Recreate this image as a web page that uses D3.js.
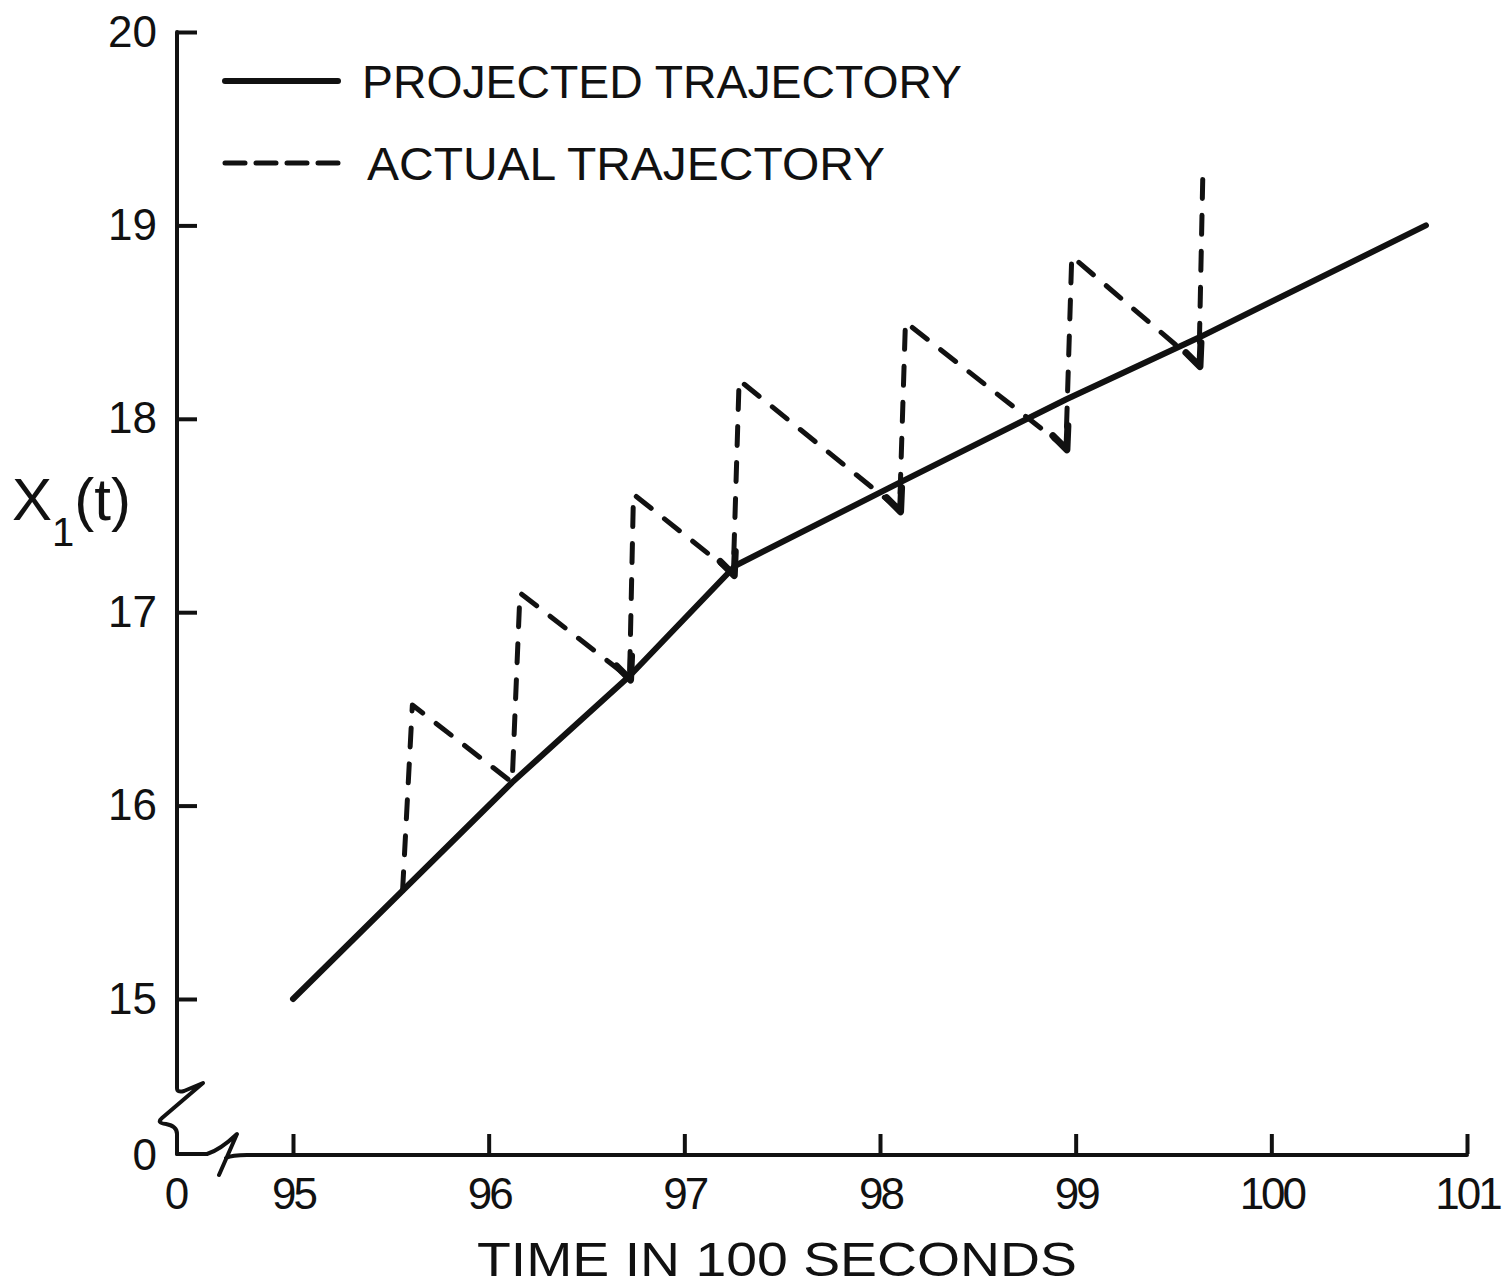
<!DOCTYPE html>
<html>
<head>
<meta charset="utf-8">
<script src="https://cdn.jsdelivr.net/npm/d3@7"></script>
<style>
  body { margin: 0; background: #fff; }
  text { font-family: "Liberation Sans", "DejaVu Sans", sans-serif; fill: #111; }
</style>
</head>
<body>
<svg id="chart" width="1502" height="1288"></svg>
<script>
// tick values
var xTicks = [95, 96, 97, 98, 99, 100, 101];
var yTicks = [15, 16, 17, 18, 19, 20];

// projected trajectory (solid)
var projX = [95.0, 96.12, 96.72, 97.26, 98.10, 98.95, 99.63, 100.79];
var projY = [15.0, 16.12, 16.67, 17.24, 17.67, 18.10, 18.42, 19.00];

// actual trajectory (dashed sawtooth)
var actX = [95.56, 95.61, 96.12, 96.16, 96.72, 96.74, 97.25, 97.28, 98.10, 98.13, 98.95, 98.98, 99.63, 99.65];
var actY = [15.56, 16.52, 16.12, 17.10, 16.66, 17.61, 17.20, 18.20, 17.53, 18.50, 17.85, 18.84, 18.28, 19.27];

var legendNames = ["PROJECTED TRAJECTORY", "ACTUAL TRAJECTORY"];

var svg = d3.select("#chart");
var ink = "#111";

// axis corner (broken axes), in pixels
var ox = 177, oy = 1154;

var x = d3.scaleLinear().domain([95, 101]).range([293, 1467]);
var y = d3.scaleLinear().domain([15, 20]).range([999, 32]);

// y axis with break
svg.append("path")
    .attr("d", "M" + ox + "," + y(20) + " V" + (oy - 66) +
               " Q" + ox + "," + (oy - 61) + " " + (ox + 7) + "," + (oy - 63) +
               " L" + (ox + 26) + "," + (oy - 71) +
               " L" + (ox - 15) + "," + (oy - 36) +
               " Q" + (ox - 21) + "," + (oy - 31) + " " + (ox - 11) + "," + (oy - 30) +
               " Q" + ox + "," + (oy - 28) + " " + ox + "," + (oy - 20) +
               " V" + oy)
    .attr("fill", "none").attr("stroke", ink).attr("stroke-width", 4)
    .attr("stroke-linejoin", "round").attr("stroke-linecap", "round");

// x axis with break
svg.append("path")
    .attr("d", "M" + ox + "," + oy + " H" + (ox + 30) +
               " Q" + (ox + 43) + "," + (oy - 4) + " " + (ox + 60) + "," + (oy - 20) +
               " L" + (ox + 42) + "," + (oy + 21) +
               " M" + (ox + 49) + "," + (oy + 4) +
               " Q" + (ox + 55) + "," + (oy + 1) + " " + (ox + 70) + "," + (oy + 1) +
               " H" + x(101))
    .attr("fill", "none").attr("stroke", ink).attr("stroke-width", 4)
    .attr("stroke-linejoin", "round").attr("stroke-linecap", "round");

// y ticks (pointing inward)
var gy = svg.append("g").attr("transform", "translate(" + ox + ",0)")
    .call(d3.axisLeft(y).tickValues(yTicks).tickSizeInner(-20).tickSizeOuter(0).tickPadding(20).tickFormat(d3.format("d")));
gy.select(".domain").remove();
gy.selectAll(".tick line").attr("stroke", ink).attr("stroke-width", 4);
gy.selectAll(".tick text").attr("font-size", 44).attr("fill", ink);

// x ticks (pointing up)
var gx = svg.append("g").attr("transform", "translate(0," + oy + ")")
    .call(d3.axisBottom(x).tickValues(xTicks).tickSizeInner(-20).tickSizeOuter(0).tickPadding(24).tickFormat(d3.format("d")));
gx.select(".domain").remove();
gx.selectAll(".tick line").attr("stroke", ink).attr("stroke-width", 4);
gx.selectAll(".tick text").attr("font-size", 44).attr("letter-spacing", "-3px").attr("fill", ink);

// zero labels at the broken corner
svg.append("text").attr("x", ox - 20).attr("y", oy).attr("dy", "0.36em")
    .attr("text-anchor", "end").attr("font-size", 44).text("0");
svg.append("text").attr("x", ox).attr("y", oy + 24).attr("dy", "0.71em")
    .attr("text-anchor", "middle").attr("font-size", 44).text("0");

// projected trajectory
var proj = projX.map(function(d, i) { return [d, projY[i]]; });
var line = d3.line().x(function(d) { return x(d[0]); }).y(function(d) { return y(d[1]); });

svg.append("path").datum(proj)
    .attr("d", line)
    .attr("fill", "none").attr("stroke", ink).attr("stroke-width", 6)
    .attr("stroke-linecap", "round").attr("stroke-linejoin", "round");

// actual trajectory
var act = actX.map(function(d, i) { return [d, actY[i]]; });
svg.append("path").datum(act)
    .attr("d", line)
    .attr("fill", "none").attr("stroke", ink).attr("stroke-width", 5)
    .attr("stroke-dasharray", "19,17")
    .attr("stroke-linecap", "round").attr("stroke-linejoin", "round");

// little check-mark hooks where the dashed line turns up
act.forEach(function(d, i) {
    if (i % 2 == 0 && i >= 4) {
        var px = x(d[0]), py = y(d[1]);
        svg.append("path")
            .attr("d", "M" + (px - 13) + "," + (py - 12) + " L" + (px + 1) + "," + (py + 2) + " L" + (px + 2) + "," + (py - 22))
            .attr("fill", "none").attr("stroke", ink).attr("stroke-width", 7)
            .attr("stroke-linecap", "round").attr("stroke-linejoin", "round");
    }
});

// legend
var legend = svg.append("g");
legendNames.forEach(function(name, i) {
    var ly = 81 + i * 82;
    legend.append("line")
        .attr("x1", 225).attr("x2", 338).attr("y1", ly).attr("y2", ly)
        .attr("stroke", ink).attr("stroke-width", i == 0 ? 6 : 5)
        .attr("stroke-linecap", "round")
        .attr("stroke-dasharray", i == 0 ? null : "20,11");
    legend.append("text")
        .attr("x", i == 0 ? 362 : 367).attr("y", ly).attr("dy", "0.36em")
        .attr("font-size", 46)
        .attr("textLength", i == 0 ? 600 : 518).attr("lengthAdjust", "spacingAndGlyphs")
        .text(name);
});

// axis titles
svg.append("text")
    .attr("x", 777).attr("y", 1276).attr("text-anchor", "middle")
    .attr("font-size", 48).attr("textLength", 600).attr("lengthAdjust", "spacingAndGlyphs")
    .text("TIME IN 100 SECONDS");

var ylab = svg.append("text").attr("x", 12).attr("y", 520).attr("font-size", 60);
ylab.append("tspan").text("X");
ylab.append("tspan").attr("font-size", 40).attr("dy", 26).text("1");
ylab.append("tspan").attr("dy", -26).text("(t)");
</script>
</body>
</html>
